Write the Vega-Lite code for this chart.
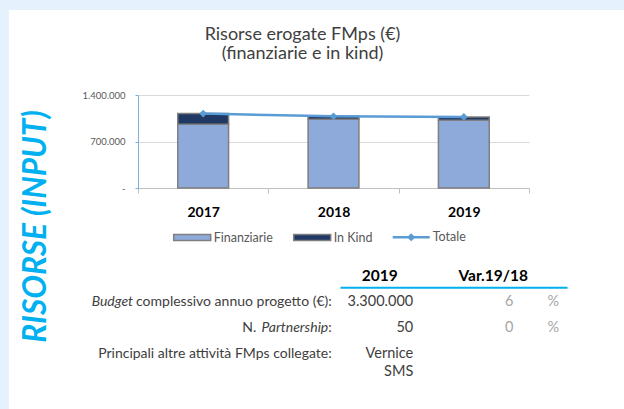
{
  "$schema": "https://vega.github.io/schema/vega-lite/v6.json",
  "width": 615,
  "height": 399,
  "autosize": "none",
  "padding": {"left": 9, "top": 10, "right": 0, "bottom": 0},
  "background": "#e5f1fd",
  "config": {
    "view": {"fill": "white", "stroke": null},
    "font": "Lato",
    "locale": {"number": {"decimal": ",", "thousands": ".", "grouping": [3], "currency": ["€", ""]}}
  },
  "title": {
    "text": "Risorse erogate FMps (€)",
    "subtitle": "(finanziarie e in kind)",
    "anchor": "middle",
    "frame": "group",
    "font": "Lato",
    "fontSize": 18,
    "fontWeight": "normal",
    "color": "#404040",
    "subtitleFont": "Lato",
    "subtitleFontSize": 18,
    "subtitleColor": "#404040",
    "subtitlePadding": 1,
    "offset": -52.5,
    "dx": -14
  },
  "datasets": {
    "risorse": [
      {"anno": "2017", "tipo": "Finanziarie", "valore": 960000},
      {"anno": "2017", "tipo": "In Kind", "valore": 160000},
      {"anno": "2018", "tipo": "Finanziarie", "valore": 1035000},
      {"anno": "2018", "tipo": "In Kind", "valore": 45000},
      {"anno": "2019", "tipo": "Finanziarie", "valore": 1020000},
      {"anno": "2019", "tipo": "In Kind", "valore": 50000}
    ],
    "totali": [
      {"anno": "2017", "valore": 1120000},
      {"anno": "2018", "valore": 1080000},
      {"anno": "2019", "valore": 1070000}
    ],
    "tabella": [
      {"riga": "r1", "it1": "Budget", "lab": "complessivo annuo progetto (€):", "n": "", "it2": "", "val": "3.300.000", "val2": "", "var": "6", "pct": "%"},
      {"riga": "r2", "it1": "", "lab": ":", "n": "N.", "it2": "Partnership", "val": "50", "val2": "", "var": "0", "pct": "%"},
      {"riga": "r3", "it1": "", "lab": "Principali altre attività FMps collegate:", "n": "", "it2": "", "val": "Vernice", "val2": "SMS", "var": "", "pct": ""}
    ]
  },
  "layer": [
    {
      "encoding": {
        "x": {
          "field": "anno",
          "type": "ordinal",
          "scale": {"type": "band", "range": [129, 520], "paddingInner": 0, "paddingOuter": 0},
          "axis": {
            "orient": "bottom",
            "offset": -221,
            "title": null,
            "labelAngle": 0,
            "labelFont": "Lato",
            "labelFontSize": 14,
            "labelFontWeight": "bold",
            "labelColor": "#000000",
            "labelPadding": 12,
            "domainColor": "#bfbfbf",
            "tickColor": "#bfbfbf",
            "tickSize": 5,
            "tickBand": "extent",
            "grid": false
          }
        },
        "y": {
          "field": "valore",
          "type": "quantitative",
          "scale": {"domain": [0, 1400000], "range": [178, 85], "nice": false, "zero": true},
          "axis": {
            "orient": "left",
            "offset": -129,
            "values": [0, 700000, 1400000],
            "format": ",d",
            "labelExpr": "datum.value === 0 ? '-' : datum.label",
            "labelFont": "Lato",
            "labelFontSize": 9.5,
            "labelColor": "#595959",
            "labelPadding": 10,
            "domainColor": "#7fb0dd",
            "tickColor": "#7fb0dd",
            "tickSize": 3,
            "grid": true,
            "gridColor": "#d9d9d9",
            "gridWidth": 1,
            "title": "RISORSE (INPUT)",
            "titleX": -101.5,
            "titleY": 216,
            "titleAngle": 270,
            "titleAlign": "center",
            "titleBaseline": "middle",
            "titleFont": "Lato",
            "titleFontSize": 31.5,
            "titleFontWeight": "bold",
            "titleFontStyle": "italic",
            "titleColor": "#00b0f0"
          }
        }
      },
      "layer": [
        {
          "data": {"name": "risorse"},
          "mark": {"type": "bar", "width": {"band": 0.39}, "stroke": "#7f7f7f", "strokeWidth": 1.5},
          "encoding": {
            "color": {
              "field": "tipo",
              "type": "nominal",
              "scale": {"domain": ["Finanziarie", "In Kind", "Totale"], "range": ["#8eaadb", "#1f3864", "#5b9bd5"]},
              "legend": {
                "orient": "none",
                "legendX": 163.7,
                "legendY": 207.5,
                "direction": "horizontal",
                "title": null,
                "padding": 0,
                "symbolSize": 1369,
                "symbolStrokeWidth": 1.5,
                "symbolType": {"expr": "datum.value === 'Totale' ? 'M-1,-0.07H1V0.07H-1Z M0,-0.22L0.22,0L0,0.22L-0.22,0Z' : 'M-1,-0.16H1V0.16H-1Z'"},
                "symbolFillColor": {"expr": "datum.value === 'Finanziarie' ? '#8eaadb' : datum.value === 'In Kind' ? '#1f3864' : '#5b9bd5'"},
                "symbolStrokeColor": {"expr": "datum.value === 'Totale' ? 'transparent' : '#7f7f7f'"},
                "symbolOpacity": 1,
                "labelFont": "Lato",
                "labelFontSize": 12.5,
                "labelColor": "#595959",
                "labelOffset": 2,
                "columnPadding": 17
              }
            },
            "order": {"field": "tipo", "sort": "ascending"}
          }
        },
        {
          "data": {"name": "totali"},
          "mark": {"type": "line", "color": "#5b9bd5", "strokeWidth": 2.5, "point": {"shape": "diamond", "size": 60, "filled": true, "color": "#5b9bd5"}},
          "encoding": {}
        }
      ]
    },
    {
      "data": {"name": "tabella"},
      "encoding": {
        "x": {
          "datum": "2019",
          "type": "nominal",
          "scale": {"type": "band", "domain": ["2019", "Var.19/18"], "range": [331, 558], "paddingInner": 0, "paddingOuter": 0},
          "axis": {
            "orient": "top",
            "offset": -277.3,
            "title": null,
            "labelAngle": 0,
            "labelFont": "Lato",
            "labelFontSize": 15.5,
            "labelFontWeight": "bold",
            "labelColor": "#000000",
            "labelOffset": -17,
            "labelPadding": 4,
            "domainColor": "#00b0f0",
            "domainWidth": 2,
            "ticks": false,
            "grid": false
          }
        },
        "y": {
          "field": "riga",
          "type": "nominal",
          "scale": {"type": "band", "domain": ["r1", "r2", "r3"], "range": [278.5, 357.5], "paddingInner": 0, "paddingOuter": 0},
          "axis": null
        }
      },
      "layer": [
        {"mark": {"type": "text", "align": "right", "dx": -65, "font": "Lato", "fontSize": 14, "color": "#404040"}, "encoding": {"text": {"field": "lab"}}},
        {"mark": {"type": "text", "align": "right", "dx": -263.75, "font": "Lato", "fontSize": 14, "fontStyle": "italic", "color": "#404040"}, "encoding": {"text": {"field": "it1"}}},
        {"mark": {"type": "text", "align": "right", "dx": -68.5, "font": "Lato", "fontSize": 14, "fontStyle": "italic", "color": "#404040"}, "encoding": {"text": {"field": "it2"}}},
        {"mark": {"type": "text", "align": "right", "dx": -140.4, "font": "Lato", "fontSize": 14, "color": "#404040"}, "encoding": {"text": {"field": "n"}}},
        {"mark": {"type": "text", "align": "right", "dx": 16.5, "font": "Lato", "fontSize": 14.5, "color": "#404040"}, "encoding": {"text": {"field": "val"}}},
        {"mark": {"type": "text", "align": "right", "dx": 16.5, "dy": 18, "font": "Lato", "fontSize": 14.5, "color": "#404040"}, "encoding": {"text": {"field": "val2"}}},
        {"mark": {"type": "text", "align": "center", "dx": -1, "font": "Lato", "fontSize": 14.5, "color": "#a6a6a6"}, "encoding": {"x": {"datum": "Var.19/18", "type": "nominal"}, "text": {"field": "var"}}},
        {"mark": {"type": "text", "align": "center", "dx": 43, "font": "Lato", "fontSize": 14.5, "color": "#a6a6a6"}, "encoding": {"x": {"datum": "Var.19/18", "type": "nominal"}, "text": {"field": "pct"}}}
      ]
    }
  ],
  "resolve": {"scale": {"x": "independent", "y": "independent"}, "axis": {"x": "independent", "y": "independent"}}
}
